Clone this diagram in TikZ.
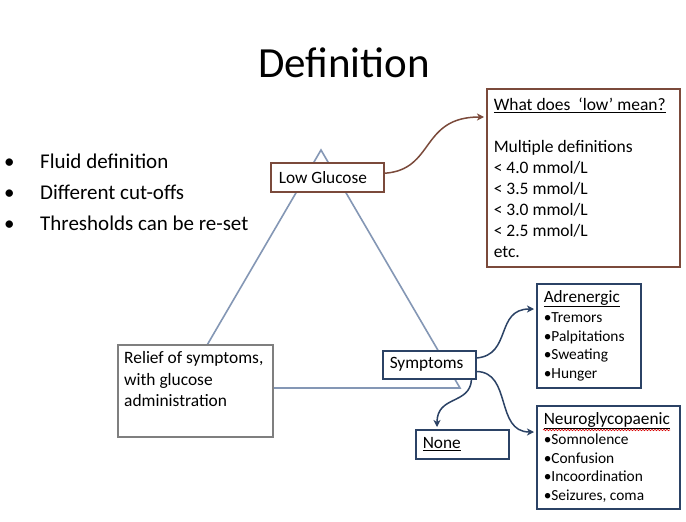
\documentclass[tikz,border=0pt]{standalone}
\usepackage{fontspec}
\setmainfont{Carlito}
\usetikzlibrary{arrows.meta,decorations.pathmorphing,calc}
\definecolor{brownc}{HTML}{7B4A3B}
\definecolor{navyc}{HTML}{2B4265}
\definecolor{tric}{HTML}{8497B5}
\definecolor{grayc}{HTML}{7F7F7F}
\tikzset{
  boxbase/.style={draw, fill=white, line width=1.5pt, inner sep=0pt,
    execute at begin node={\spaceskip=0pt\xspaceskip=0pt\relax}},
  brownbox/.style={boxbase, draw=brownc},
  navybox/.style={boxbase, draw=navyc},
  graybox/.style={boxbase, draw=grayc},
  txt/.style={inner sep=0pt, align=left, execute at begin node={\spaceskip=0pt\xspaceskip=0pt\relax}},
  bul/.style={anchor=base west, inner sep=0pt, font=\fontsize{21}{24}\selectfont},
  brownarr/.style={draw=brownc, line width=1.5pt, -{Stealth[length=7pt,width=7pt,inset=2pt]}},
  navyarr/.style={draw=navyc, line width=1.5pt, -{Stealth[length=7pt,width=7pt,inset=2pt]}},
}
\begin{document}
\begin{tikzpicture}[x=1pt,y=-1pt]
\useasboundingbox (0,0) rectangle (686,522);
\fill[white] (0,0) rectangle (686,522);

% title
\node[inner sep=0pt, font=\fontsize{43}{50}\selectfont] (title) at (344,63) {Definition};

% bullets
\node[bul] (b1) at (0,168) {\hspace{4pt}•};
\node[bul] (t1) at (40,168) {Fluid definition};
\node[bul] (b2) at (0,199) {\hspace{4pt}•};
\node[bul] (t2) at (40,199) {Different cut-offs};
\node[bul] (b3) at (0,230) {\hspace{4pt}•};
\node[bul] (t3) at (40,230) {Thresholds can be re-set};

% triangle
\coordinate (apex) at (321,150);
\coordinate (bl) at (182,388);
\coordinate (br) at (460,388);
\draw[tric, line width=1.6pt] (apex) -- (bl) -- (br) -- cycle;

% Low Glucose
\node[brownbox, minimum width=113pt, minimum height=29pt, anchor=north west,
      font=\fontsize{17.3}{20}\selectfont, text width=97pt, align=left] (lg) at (270,162) {Low Glucose};

% What does low mean
\node[brownbox, minimum width=193pt, minimum height=178pt, anchor=north west,
      font=\fontsize{17.5}{21}\selectfont, text width=179pt, align=left] (wb) at (486,88)
  {\underline{What does\ \ ‘low’ mean?}\\[21pt]
   Multiple definitions\\
   < 4.0 mmol/L\\
   < 3.5 mmol/L\\
   < 3.0 mmol/L\\
   < 2.5 mmol/L\\
   etc.};

% Relief box
\node[graybox, minimum width=155pt, minimum height=92pt, anchor=north west] (rb) at (117,344) {};
\node[txt, anchor=north west, font=\fontsize{17.4}{21.5}\selectfont] (rbt) at ($(rb.north west)+(7,7.5)$)
  {Relief of symptoms,\\with glucose\\administration};

% Symptoms
\node[navybox, minimum width=93pt, minimum height=28pt, anchor=north west,
      font=\fontsize{17.3}{20}\selectfont, text width=79pt, align=left] (sy) at (382,350) {Symptoms};

% Adrenergic
\node[navybox, minimum width=104pt, minimum height=104pt, anchor=north west,
      font=\fontsize{15.4}{18.7}\selectfont, text width=90pt, align=left] (ad) at (536,283)
  {{\fontsize{17.2}{18.7}\selectfont\underline{Adrenergic}}\\[1.5pt]
   •Tremors\\
   •Palpitations\\
   •Sweating\\
   •Hunger};

% Neuroglycopaenic
\node[navybox, minimum width=143pt, minimum height=103pt, anchor=north west,
      font=\fontsize{15.4}{18.7}\selectfont, text width=129pt, align=left] (ng) at (536,405)
  {{\fontsize{17.3}{18.7}\selectfont\underline{Neuroglycopaenic}}\\[1.5pt]
   •Somnolence\\
   •Confusion\\
   •Incoordination\\
   •Seizures, coma};
\draw[red!85!black, line width=0.6pt, decorate, decoration={snake, amplitude=0.7pt, segment length=3pt}]
  ($(ng.north west)+(7,25)$) -- ($(ng.north west)+(134,25)$);

% None
\node[navybox, minimum width=93pt, minimum height=29pt, anchor=north west,
      font=\fontsize{17.3}{20}\selectfont, text width=79pt, align=left] (none) at (415,429) {\underline{None}};

% connectors
\coordinate (lgout) at ($(lg.east)+(0,-4)$);
\coordinate (wbin) at ($(wb.north west)+(-2,29)$);
\draw[brownarr] (lgout) .. controls (435,170) and (420,117) .. (wbin);

\coordinate (adin) at ($(ad.north west)+(-2,26)$);
\coordinate (ngin) at ($(ng.north west)+(-2,27)$);
\coordinate (s1) at ($(sy.north east)+(0,8)$);
\coordinate (s2) at ($(sy.south east)+(0,-8)$);
\coordinate (s3) at ($(sy.south east)+(-5,0)$);
\coordinate (nonein) at ($(none.north west)+(22,-2)$);
\draw[navyarr] (s1) .. controls (512,355) and (495,309) .. (adin);
\draw[navyarr] (s2) .. controls (512,372) and (495,432) .. (ngin);
\draw[navyarr] (s3) .. controls (470,405) and (437,395) .. (nonein);
\end{tikzpicture}
\end{document}
